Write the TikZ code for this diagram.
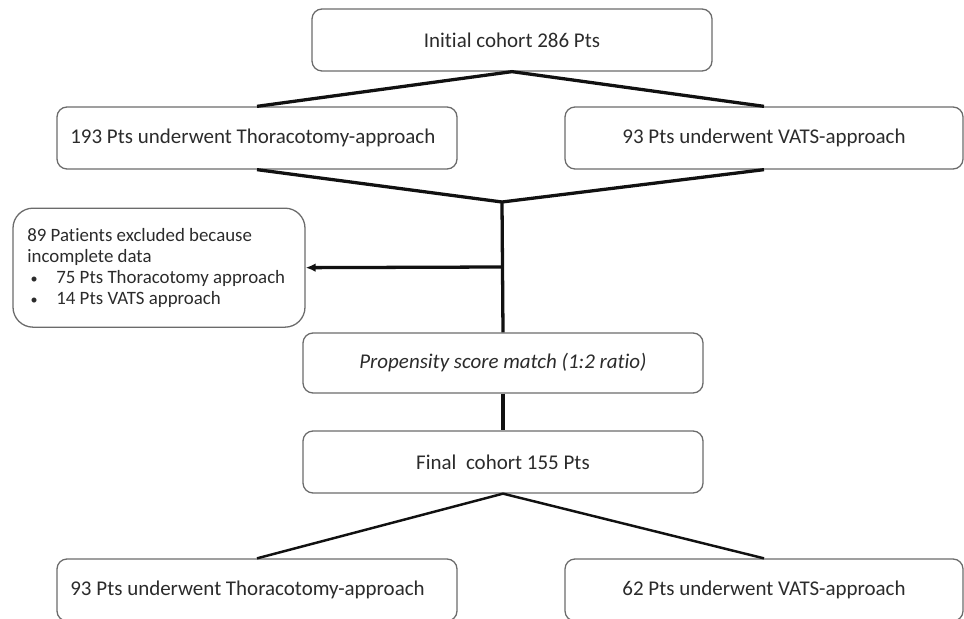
\documentclass[tikz,border=0pt]{standalone}
\usepackage{fontspec}
\setmainfont{Carlito}[Ligatures=NoCommon]
\usetikzlibrary{positioning,arrows.meta}
\usepackage{xcolor}
\definecolor{boxline}{HTML}{6B6B6B}
\definecolor{linkline}{HTML}{111111}
\definecolor{labeltext}{HTML}{2B2B2B}

\begin{document}
\begin{tikzpicture}[node distance=.45cm]
\tikzstyle{stagebox}=[rounded corners=.3cm,draw=boxline,line width=1.1pt,text=labeltext,minimum width=12.0cm,minimum height=1.86cm,align=center,font=\fontsize{17.9}{21}\selectfont]
\tikzstyle{leftbox}=[stagebox,text width=11.2cm,align=flush left]
\tikzstyle{link}=[draw=linkline,line width=2.8pt]
\tikzstyle{thinlink}=[draw=linkline,line width=2.1pt]
\useasboundingbox (0,0) rectangle (28.92,-18.57);
\node[stagebox] (initial) at (15.36,-1.20) {Initial cohort 286 Pts};
\node[leftbox] (thoraco) at (7.71,-4.14) {193 Pts underwent Thoracotomy-approach};
\node[stagebox,minimum width=11.94cm] (vats) at (22.92,-4.14) {93 Pts underwent VATS-approach};
\node[stagebox,minimum height=1.8cm] (propensity) at (15.09,-10.89) {\itshape Propensity score match (1:2 ratio)};
\node[stagebox] (final) at (15.09,-13.86) {Final\ \ cohort 155 Pts};
\node[leftbox] (thorfinal) at (7.71,-17.70) {93 Pts underwent Thoracotomy-approach};
\node[stagebox,minimum width=11.94cm] (vatsfinal) at (22.92,-17.70) {62 Pts underwent VATS-approach};
\node[rounded corners=.6cm,draw=boxline,line width=1.1pt,text=labeltext,minimum width=8.76cm,minimum height=3.57cm,text width=7.9cm,align=flush left,font=\fontsize{16.1}{17.9}\selectfont] (excluded) at (4.77,-8.03) {89 Patients excluded because\\incomplete data\\\makebox[.87cm][l]{\hspace{.1cm}\scalebox{.75}{•}}75 Pts Thoracotomy approach\\\makebox[.87cm][l]{\hspace{.1cm}\scalebox{.75}{•}}14 Pts VATS approach};
\coordinate (merge) at (15.06,-6.06);
\coordinate (branch) at (15.06,-8.01);

% split into the two approaches
\draw[link] (thoraco.north) -- (initial.south) -- (vats.north);
\draw[link] (thoraco.south) -- (merge) -- (vats.south);
\draw[link] (merge) -- (propensity.north);
\draw[link,-{Latex[length=.3cm,width=.26cm]}] (branch) -- (excluded.east);
\draw[link] (propensity.south) -- (final.north);
% final split
\draw[thinlink] (thorfinal.north) -- (final.south) -- (vatsfinal.north);
\end{tikzpicture}
\end{document}
